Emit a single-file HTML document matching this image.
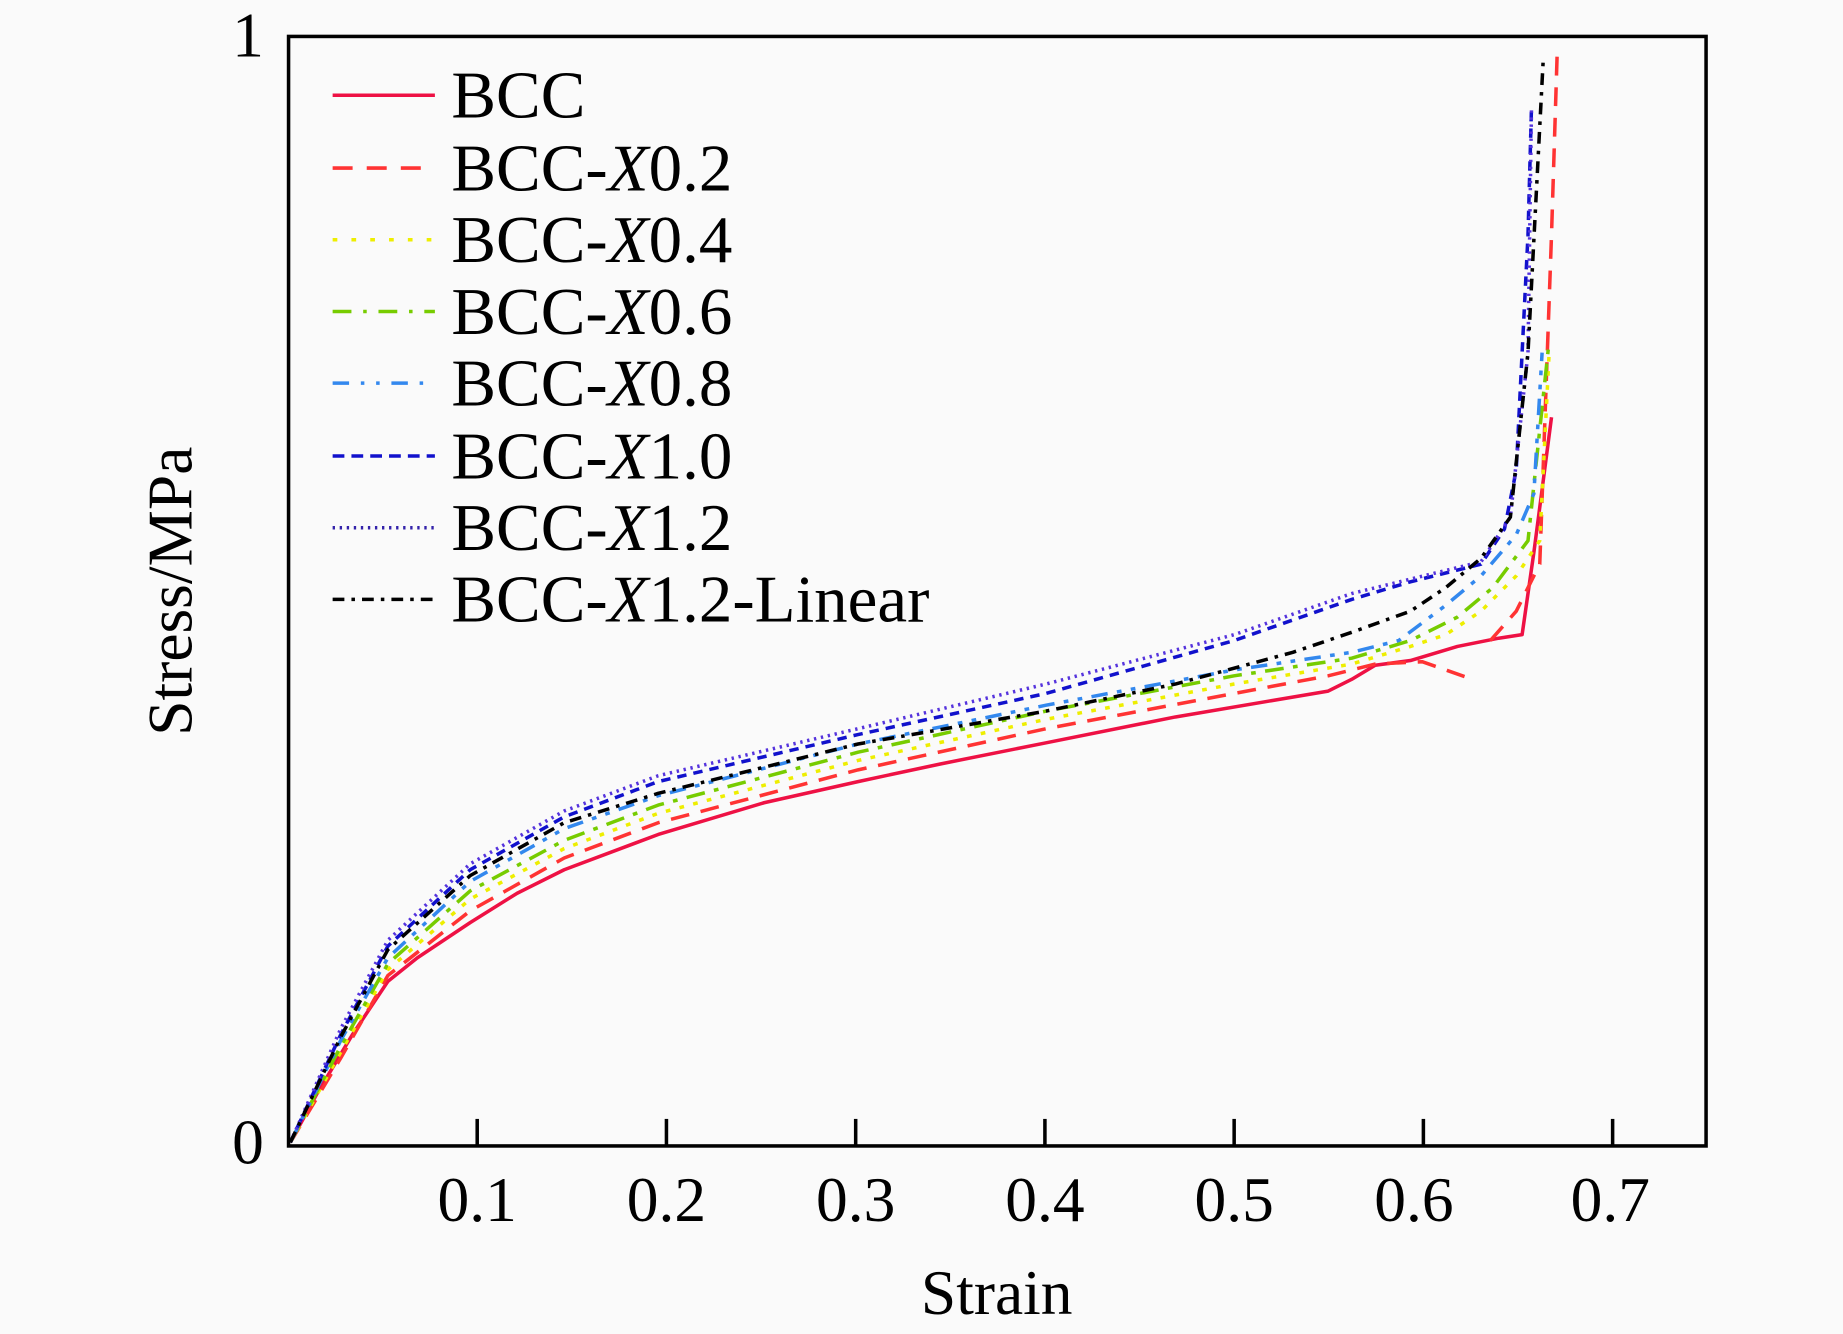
<!DOCTYPE html>
<html><head><meta charset="utf-8"><style>
html,body{margin:0;padding:0;background:#fafafa;}
svg{display:block;}
text{font-family:"Liberation Serif",serif;fill:#000;}
</style></head><body>
<svg width="1843" height="1334" viewBox="0 0 1568 1135" preserveAspectRatio="none" xmlns="http://www.w3.org/2000/svg">
<rect width="1568" height="1135" fill="#fafafa"/>
<g fill="none" stroke-width="3" stroke-linejoin="round">
<polyline stroke="#ee1144" points="247,972 270,930 300,880 330,835 355,815 400,785 440,760 480,740 560,710 650,683 730,665 800,650 890,632 1000,610 1130,588 1150,578 1170,566 1200,562 1240,550 1275,543 1295,540 1305,470 1320,355"/>
<polyline stroke="#ff3333" stroke-dasharray="16,10" points="247,972 290,900 330,830 400,775 480,730 560,700 730,655 890,620 1050,590 1130,575 1170,565 1210,563 1250,577"/>
<polyline stroke="#ff3333" stroke-dasharray="16,10" points="1268,545 1290,520 1310,480 1320,200 1325,40"/>
<polyline stroke="#eeee00" stroke-dasharray="4,8" points="247,972 290,895 330,825 400,765 480,722 560,692 730,647 890,612 1050,582 1150,565 1200,550 1230,540 1260,520 1290,490 1310,460 1318,300"/>
<polyline stroke="#77cc00" stroke-dasharray="16,8,4,8" points="247,972 290,890 330,820 400,758 480,715 560,685 730,640 890,605 1050,575 1150,560 1200,545 1240,525 1270,500 1300,460 1318,290"/>
<polyline stroke="#3388ee" stroke-dasharray="14,8,4,8,4,8" points="247,972 290,885 330,815 400,750 480,705 560,677 730,633 890,600 1050,570 1150,555 1190,545 1230,515 1260,490 1290,455 1305,420 1312,300"/>
<polyline stroke="#1111cc" stroke-dasharray="8,6" points="247,972 290,880 330,805 400,740 480,695 560,665 730,625 890,590 1050,545 1150,510 1200,495 1260,480 1280,450 1290,400 1300,200 1303,90"/>
<polyline stroke="#5533dd" stroke-dasharray="2,4" points="247,972 290,875 330,800 400,735 480,690 560,660 730,620 890,582 1050,540 1150,505 1260,478 1285,440 1300,300 1303,90"/>
<polyline stroke="#000" stroke-dasharray="10,6,3,6" points="247,972 290,882 330,808 400,745 480,700 560,675 730,633 890,605 1000,582 1100,555 1150,538 1200,520 1230,500 1260,475 1285,440 1300,300 1313,50"/>
</g>
<rect x="245.5" y="31" width="1206" height="944" fill="none" stroke="#000" stroke-width="3"/>
<g stroke="#000" stroke-width="3">
<line x1="406" y1="975" x2="406" y2="952"/><line x1="567" y1="975" x2="567" y2="952"/>
<line x1="728" y1="975" x2="728" y2="952"/><line x1="889" y1="975" x2="889" y2="952"/>
<line x1="1050" y1="975" x2="1050" y2="952"/><line x1="1211" y1="975" x2="1211" y2="952"/>
<line x1="1372" y1="975" x2="1372" y2="952"/>
</g>
<g font-size="54" text-anchor="middle">
<text x="406" y="1039">0.1</text><text x="567" y="1039">0.2</text><text x="728" y="1039">0.3</text>
<text x="889" y="1039">0.4</text><text x="1050" y="1039">0.5</text><text x="1203" y="1039">0.6</text>
<text x="1370" y="1039">0.7</text>
<text x="211" y="48">1</text><text x="211" y="990">0</text>
<text x="848" y="1118">Strain</text>
<text transform="translate(163,503) rotate(-90)">Stress/MPa</text>
</g>
<g stroke-width="3">
<line x1="283" y1="81" x2="370" y2="81" stroke="#ee1144"/>
<line x1="283" y1="143" x2="370" y2="143" stroke="#ff3333" stroke-dasharray="17,12"/>
<line x1="283" y1="204" x2="370" y2="204" stroke="#eeee00" stroke-dasharray="4,12"/>
<line x1="283" y1="265" x2="370" y2="265" stroke="#77cc00" stroke-dasharray="16,10,3,10"/>
<line x1="283" y1="326" x2="370" y2="326" stroke="#3388ee" stroke-dasharray="14,10,3,10,3,10"/>
<line x1="283" y1="388" x2="370" y2="388" stroke="#1111cc" stroke-dasharray="10,6"/>
<line x1="283" y1="449" x2="370" y2="449" stroke="#3322aa" stroke-dasharray="2,4"/>
<line x1="283" y1="510" x2="370" y2="510" stroke="#000" stroke-dasharray="10,6,3,6"/>
</g>
<g font-size="57">
<text x="384" y="100">BCC</text>
<text x="384" y="162">BCC-<tspan font-style="italic">X</tspan>0.2</text>
<text x="384" y="223">BCC-<tspan font-style="italic">X</tspan>0.4</text>
<text x="384" y="284">BCC-<tspan font-style="italic">X</tspan>0.6</text>
<text x="384" y="345">BCC-<tspan font-style="italic">X</tspan>0.8</text>
<text x="384" y="407">BCC-<tspan font-style="italic">X</tspan>1.0</text>
<text x="384" y="468">BCC-<tspan font-style="italic">X</tspan>1.2</text>
<text x="384" y="529">BCC-<tspan font-style="italic">X</tspan>1.2-Linear</text>
</g>
</svg>
</body></html>
